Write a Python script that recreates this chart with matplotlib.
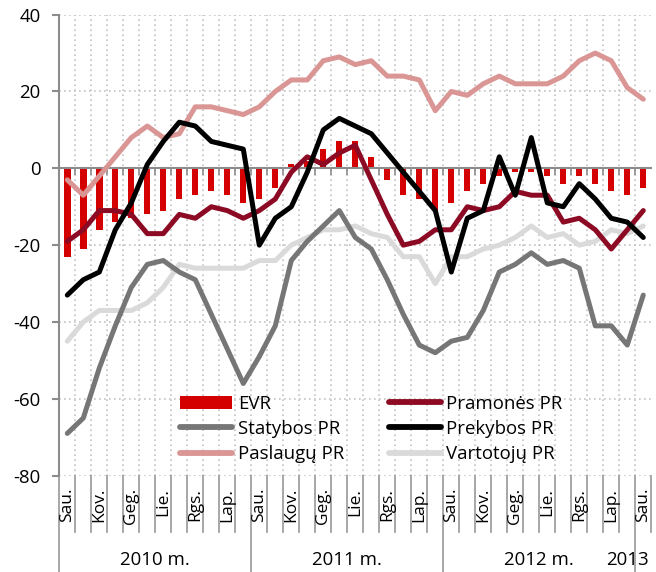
"""Lithuanian confidence indicators (EVR and sector PR), Jan 2010 - Jan 2013."""

import matplotlib

matplotlib.use("Agg")
import matplotlib.pyplot as plt
import numpy as np
from matplotlib.lines import Line2D
from matplotlib.patches import Patch

plt.rcParams["font.family"] = ["Open Sans", "DejaVu Sans"]
plt.rcParams["axes.unicode_minus"] = False

MONTH_LABELS = (["Sau.", "", "Kov.", "", "Geg.", "", "Lie.", "", "Rgs.", "", "Lap.", ""] * 3
                + ["Sau."])
YEAR_LABELS = ["2010 m.", "2011 m.", "2012 m.", "2013"]
YEAR_CENTERS = [5.5, 17.5, 29.5, 35.0]

evr = [-23, -21, -16, -14, -13, -12, -11, -8, -7, -6, -7, -9,
       -8, -5, 1, 2, 5, 7, 7, 3, -3, -7, -8, -11,
       -9, -6, -4, -2, -1, -1, -2, -4, -2, -4, -6, -7,
       -5]
pramones = [-19, -16, -11, -11, -12, -17, -17, -12, -13, -10, -11, -13,
            -11, -8, -1, 3, 1, 4, 6, -3, -12, -20, -19, -16,
            -16, -10, -11, -10, -6, -7, -7, -14, -13, -16, -21, -16,
            -11]
statybos = [-69, -65, -52, -41, -31, -25, -24, -27, -29, -38, -47, -56,
            -49, -41, -24, -19, -15, -11, -18, -21, -29, -38, -46, -48,
            -45, -44, -37, -27, -25, -22, -25, -24, -26, -41, -41, -46,
            -33]
prekybos = [-33, -29, -27, -16, -9, 1, 7, 12, 11, 7, 6, 5,
            -20, -13, -10, -1, 10, 13, 11, 9, 4, -1, -6, -11,
            -27, -13, -11, 3, -7, 8, -9, -10, -4, -8, -13, -14,
            -18]
paslaugu = [-3, -7, -2, 3, 8, 11, 8, 9, 16, 16, 15, 14,
            16, 20, 23, 23, 28, 29, 27, 28, 24, 24, 23, 15,
            20, 19, 22, 24, 22, 22, 22, 24, 28, 30, 28, 21,
            18]
vartotoju = [-45, -40, -37, -37, -37, -35, -31, -25, -26, -26, -26, -26,
             -24, -24, -20, -18, -16, -16, -15, -17, -18, -23, -23, -30,
             -23, -23, -21, -20, -18, -15, -18, -17, -20, -19, -16, -17,
             -15]

RED = "#D40000"
DARK_RED = "#8C0A23"
GRAY = "#767676"
PINK = "#D99694"
LIGHT = "#DADADA"
AXIS_GRAY = "#8C8C8C"
FS = 13.4
LW = 3.6

fig = plt.figure(figsize=(6.56, 5.72), dpi=100)
ax = fig.add_axes([0.0904, 0.1684, 0.9024, 0.806])
x = np.arange(len(MONTH_LABELS))

line_kw = dict(solid_capstyle="round", solid_joinstyle="round", lw=LW)
ax.bar(x, evr, width=0.4, color=RED, zorder=2)
ax.plot(x, paslaugu, color=PINK, zorder=3, **line_kw)
ax.plot(x, vartotoju, color=LIGHT, zorder=3, **line_kw)
ax.plot(x, statybos, color=GRAY, zorder=4, **line_kw)
ax.plot(x, pramones, color=DARK_RED, zorder=5, **line_kw)
ax.plot(x, prekybos, color="black", zorder=6, **line_kw)

ax.set_xlim(-0.5, len(x) - 0.5)
ax.set_ylim(-80, 40)
ax.set_yticks(range(-80, 41, 20))

bounds = np.arange(len(x) + 1) - 0.5
ax.set_xticks(bounds[1:-1])
ax.tick_params(axis="x", direction="out", length=4.8, width=1.2, color=AXIS_GRAY,
               labelbottom=False)
ax.tick_params(axis="y", direction="out", length=5, width=1.5, color=AXIS_GRAY,
               labelsize=FS, pad=8.5)

ax.grid(True, color="#C4C4C4", linestyle=(0, (1, 2)), lw=1.2)
ax.set_axisbelow(True)
for s in ("top", "right"):
    ax.spines[s].set_visible(False)
ax.spines["left"].set_color(AXIS_GRAY)
ax.spines["left"].set_linewidth(1.5)
ax.spines["bottom"].set_position(("data", 0))
ax.spines["bottom"].set_color(AXIS_GRAY)
ax.spines["bottom"].set_linewidth(1.5)
ax.spines["bottom"].set_zorder(2.5)

# category label area below the plot
trans = ax.get_xaxis_transform()
for i, b in enumerate(bounds):
    year_edge = i % 12 == 0
    ax.plot([b, b], [0, -0.209 if year_edge else -0.1215], transform=trans,
            color="#A0A0A0", lw=1.3, clip_on=False)
for k, lab in enumerate(MONTH_LABELS):
    if lab:
        ax.text(k, -0.026, lab, transform=trans, rotation=90, ha="center",
                va="top", fontsize=12.5)
for xc, lab in zip(YEAR_CENTERS, YEAR_LABELS):
    ax.text(xc, -0.183, lab, transform=trans, ha="center", va="center", fontsize=FS)

handles = [
    Patch(facecolor=RED, label="EVR"),
    Line2D([], [], color=GRAY, lw=4.2, solid_capstyle="round", label="Statybos PR"),
    Line2D([], [], color=PINK, lw=4.2, solid_capstyle="round", label="Paslaugų PR"),
    Line2D([], [], color=DARK_RED, lw=4.2, solid_capstyle="round", label="Pramonės PR"),
    Line2D([], [], color="black", lw=4.2, solid_capstyle="round", label="Prekybos PR"),
    Line2D([], [], color=LIGHT, lw=4.2, solid_capstyle="round", label="Vartotojų PR"),
]
ax.legend(handles=handles, ncol=2, loc="upper left", bbox_to_anchor=(0.204, 0.176),
          frameon=False, fontsize=FS, handlelength=2.8, handletextpad=0.3,
          columnspacing=2.4, labelspacing=0.4, borderpad=0, borderaxespad=0)

fig.savefig("out.png", dpi=100)
